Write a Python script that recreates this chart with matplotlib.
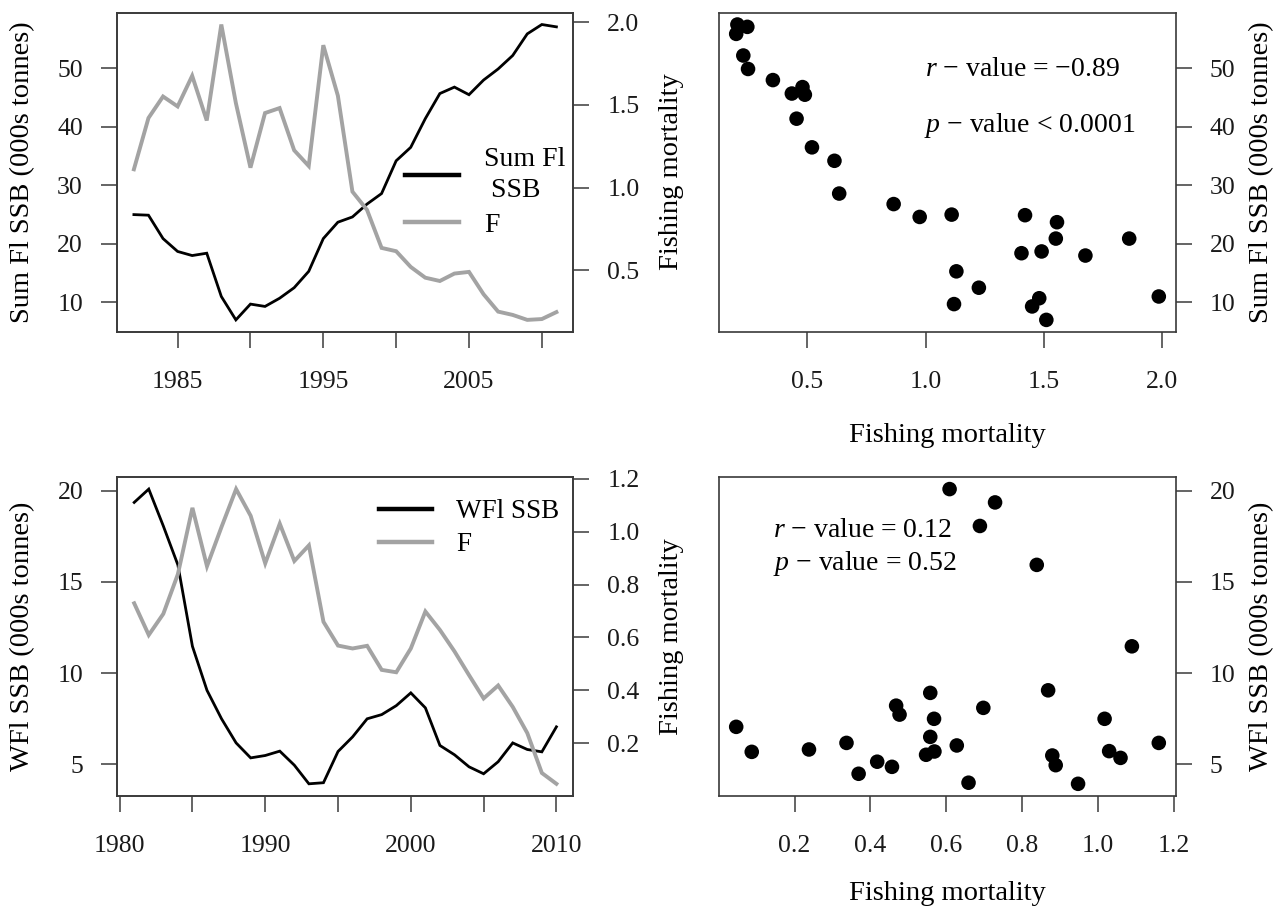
import matplotlib
matplotlib.use('Agg')
import matplotlib.pyplot as plt
from matplotlib.lines import Line2D

plt.rcParams['font.family'] = ['Liberation Serif', 'DejaVu Serif']
plt.rcParams['mathtext.fontset'] = 'custom'
plt.rcParams['mathtext.rm'] = 'Liberation Serif'
plt.rcParams['mathtext.it'] = 'Liberation Serif:italic'

# ---------------- data ----------------
sum_years = list(range(1982, 2012))
sum_ssb = [25.0, 24.9, 20.9, 18.7, 18.0, 18.4, 11.0, 7.0, 9.7, 9.3,
           10.7, 12.5, 15.3, 20.9, 23.7, 24.6, 26.8, 28.6, 34.2, 36.5,
           41.4, 45.7, 46.8, 45.5, 48.0, 49.9, 52.2, 55.9, 57.5, 57.1]
sum_f = [1.11, 1.42, 1.55, 1.49, 1.675, 1.405, 1.985, 1.51, 1.12, 1.45,
         1.48, 1.225, 1.13, 1.86, 1.555, 0.975, 0.865, 0.635, 0.615, 0.52,
         0.455, 0.435, 0.48, 0.49, 0.355, 0.25, 0.23, 0.20, 0.205, 0.247]

wfl_years = list(range(1981, 2011))
wfl_ssb = [19.35, 20.08, 18.06, 15.93, 11.47, 9.06, 7.50, 6.18, 5.36, 5.49,
           5.73, 4.96, 3.94, 4.00, 5.71, 6.51, 7.50, 7.73, 8.22, 8.92,
           8.10, 6.04, 5.53, 4.87, 4.49, 5.15, 6.18, 5.82, 5.69, 7.06]
wfl_f = [0.729, 0.609, 0.689, 0.839, 1.090, 0.869, 1.018, 1.161, 1.060, 0.880,
         1.030, 0.889, 0.948, 0.659, 0.569, 0.558, 0.568, 0.477, 0.468, 0.558,
         0.698, 0.628, 0.547, 0.457, 0.369, 0.418, 0.337, 0.238, 0.087, 0.046]

sum_label = "Sum Fl SSB (000s tonnes)"
wfl_label = "WFl SSB (000s tonnes)"
f_label = "Fishing mortality"
sum_stats = [r"$r$ − value = −0.89", r"$p$ − value < 0.0001"]
wfl_stats = [r"$r$ − value = 0.12", r"$p$ − value = 0.52"]

# ---------------- style ----------------
W, H = 1282, 908
fig = plt.figure(figsize=(W / 100, H / 100), dpi=100)
FS = 18.5
LFS = 20.5
SPINE = '#3a3a3a'
GRAY = '#a3a3a3'


def rect(x0, y0, x1, y1):
    return [x0 / W, 1 - y1 / H, (x1 - x0) / W, (y1 - y0) / H]


def rlim(v):
    lo, hi = min(v), max(v)
    d = (hi - lo) * 0.04
    return lo - d, hi + d


def style(ax):
    for s in ax.spines.values():
        s.set_color(SPINE)
        s.set_linewidth(1.2)
    ax.tick_params(axis='both', length=11.5, width=1.1, color=SPINE,
                   labelsize=FS, labelcolor='#1a1a1a')
    ax.tick_params(axis='x', pad=17)
    ax.tick_params(axis='y', pad=13)


def ts_panel(box, years, ssb, f, xticks, xlabels, lticks, rticks, rfmt,
             leglabel, legpos, lspacing, legfs, linesp):
    ax = fig.add_axes(rect(*box))
    ax2 = ax.twinx()
    ax.plot(years, ssb, color='black', lw=2.0, solid_joinstyle='miter')
    ax2.plot(years, f, color=GRAY, lw=2.8, solid_joinstyle='miter')
    ax.set_xlim(rlim(years))
    ax.set_ylim(rlim(ssb))
    ax2.set_ylim(rlim(f))
    ax.set_xticks(xticks)
    ax.set_xticklabels(xlabels)
    ax.set_yticks(lticks)
    ax.set_yticklabels([str(t) for t in lticks])
    ax2.set_yticks(rticks)
    ax2.set_yticklabels([rfmt % t for t in rticks])
    style(ax)
    style(ax2)
    h1 = Line2D([], [], color='black', lw=3.2)
    h2 = Line2D([], [], color=GRAY, lw=3.2)
    leg = ax2.legend([h1, h2], [leglabel, 'F'], loc='upper left',
                     bbox_to_anchor=(legpos[0] / W, 1 - legpos[1] / H),
                     bbox_transform=fig.transFigure, frameon=False, fontsize=legfs,
                     borderpad=0, borderaxespad=0, handlelength=1.95,
                     handletextpad=0.9, labelspacing=lspacing)
    for t in leg.get_texts():
        t.set_linespacing(linesp)
    return ax


def sc_panel(box, f, ssb, xticks, xfmt, yticks, stats, spos):
    ax = fig.add_axes(rect(*box))
    ax.scatter(f, ssb, s=110, color='black', edgecolors='none', zorder=3)
    ax.set_xlim(rlim(f))
    ax.set_ylim(rlim(ssb))
    ax.set_xticks(xticks)
    ax.set_xticklabels([xfmt % t for t in xticks])
    ax.yaxis.tick_right()
    ax.set_yticks(yticks)
    ax.set_yticklabels([str(t) for t in yticks])
    style(ax)
    for txt, (x, y) in zip(stats, spos):
        ax.text(x, y, txt, transform=ax.transAxes, fontsize=20, va='baseline', ha='left')
    return ax


# top-left time series
ts_panel((117, 12.7, 573.3, 331.7), sum_years, sum_ssb, sum_f,
         [1985, 1990, 1995, 2000, 2005, 2010], ['1985', '', '1995', '', '2005', ''],
         [10, 20, 30, 40, 50], [0.5, 1.0, 1.5, 2.0], '%.1f',
         "Sum Fl\n SSB", (405, 147), 0.33, 20, 1.32)

# bottom-left time series
ts_panel((117.3, 477.3, 573.3, 795.6), wfl_years, wfl_ssb, wfl_f,
         [1980, 1985, 1990, 1995, 2000, 2005, 2010], ['1980', '', '1990', '', '2000', '', '2010'],
         [5, 10, 15, 20], [0.2, 0.4, 0.6, 0.8, 1.0, 1.2], '%.1f',
         "WFl SSB", (379, 499), 0.3, 19.5, 1.2)

# top-right scatter
sc_panel((719.3, 12.7, 1175.7, 331.7), sum_f, sum_ssb,
         [0.5, 1.0, 1.5, 2.0], '%.1f', [10, 20, 30, 40, 50],
         sum_stats, [(0.451, 0.8016), (0.449, 0.625)])

# bottom-right scatter
sc_panel((719.3, 477.3, 1175.7, 795.6), wfl_f, wfl_ssb,
         [0.2, 0.4, 0.6, 0.8, 1.0, 1.2], '%.1f', [5, 10, 15, 20],
         wfl_stats, [(0.118, 0.8134), (0.118, 0.709)])

# axis titles
fig.text(23 / W, 1 - 172 / H, sum_label, rotation=90, ha='center', va='center', fontsize=LFS)
fig.text(672 / W, 1 - 172 / H, f_label, rotation=90, ha='center', va='center', fontsize=LFS)
fig.text(1262 / W, 1 - 172 / H, sum_label, rotation=90, ha='center', va='center', fontsize=LFS)
fig.text(947.5 / W, 1 - 436 / H, f_label, ha='center', va='center', fontsize=LFS)

fig.text(23 / W, 1 - 636.5 / H, wfl_label, rotation=90, ha='center', va='center', fontsize=LFS)
fig.text(672 / W, 1 - 636.5 / H, f_label, rotation=90, ha='center', va='center', fontsize=LFS)
fig.text(1262 / W, 1 - 636.5 / H, wfl_label, rotation=90, ha='center', va='center', fontsize=LFS)
fig.text(947.5 / W, 1 - 894 / H, f_label, ha='center', va='center', fontsize=LFS)

fig.savefig('out.png', dpi=100, facecolor='white')
